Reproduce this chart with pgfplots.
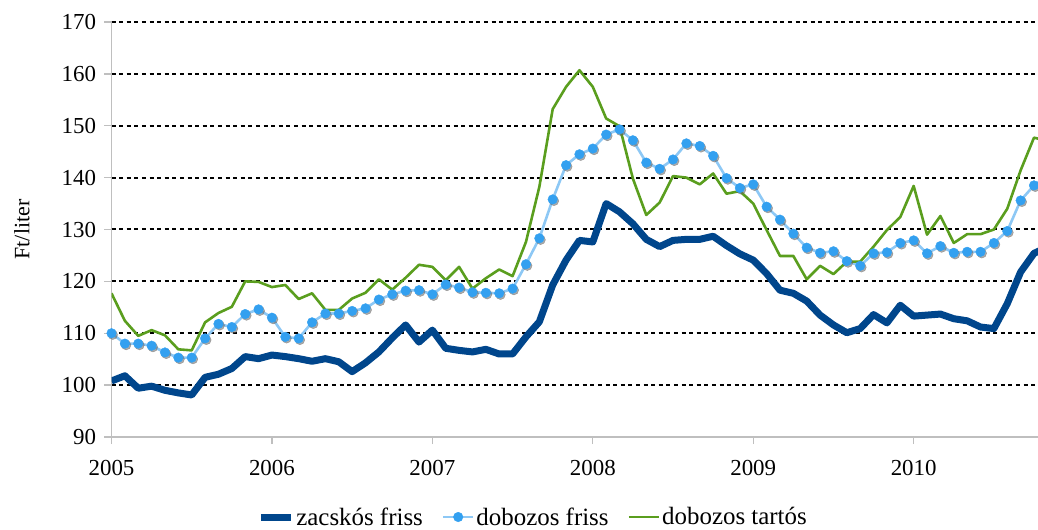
\documentclass[border=0pt]{standalone}
\usepackage{fontspec}
\setmainfont{Liberation Serif}
\usepackage{pgfplots}
\usepackage{pgfplotstable}
\pgfplotsset{compat=1.18}
\definecolor{zacs}{HTML}{00468C}
\definecolor{dobf}{HTML}{33A0F0}
\definecolor{dobfline}{HTML}{8DC8F5}
\definecolor{dobt}{HTML}{5A9E1E}
\definecolor{axgray}{HTML}{BFBFBF}

\pgfplotstableread{
m  zf     df     dt
0  100.8  110.0  117.7
1  101.8  108.0  112.4
2  99.4   108.0  109.5
3  99.8   107.6  110.6
4  99.0   106.3  109.6
5  98.5   105.3  106.9
6  98.1   105.3  106.7
7  101.5  109.0  112.1
8  102.1  111.8  113.9
9  103.2  111.2  115.1
10 105.5  113.7  120.0
11 105.1  114.6  119.9
12 105.8  113.0  118.9
13 105.5  109.3  119.3
14 105.1  109.0  116.6
15 104.6  112.1  117.7
16 105.1  113.8  114.5
17 104.5  113.8  114.5
18 102.6  114.3  116.7
19 104.3  114.8  117.8
20 106.4  116.5  120.4
21 109.1  117.5  118.4
22 111.6  118.2  120.7
23 108.3  118.3  123.2
24 110.6  117.5  122.8
25 107.1  119.4  120.2
26 106.7  118.8  122.8
27 106.4  117.9  118.6
28 106.9  117.8  120.6
29 106.0  117.7  122.3
30 106.0  118.6  121.0
31 109.3  123.3  127.6
32 112.2  128.3  138.2
33 119.3  135.8  153.2
34 124.1  142.4  157.5
35 127.9  144.5  160.7
36 127.6  145.6  157.5
37 135.0  148.3  151.4
38 133.4  149.3  149.9
39 131.1  147.2  139.8
40 128.1  142.9  132.8
41 126.7  141.7  135.2
42 127.9  143.5  140.3
43 128.1  146.6  140.0
44 128.1  146.1  138.7
45 128.7  144.2  140.8
46 126.9  139.9  136.9
47 125.3  138.0  137.4
48 124.1  138.7  135.0
49 121.5  134.4  129.9
50 118.3  131.9  124.9
51 117.7  129.2  124.9
52 116.2  126.5  120.4
53 113.5  125.5  123.0
54 111.6  125.8  121.4
55 110.1  123.9  123.8
56 110.9  123.0  123.8
57 113.6  125.4  126.7
58 112.0  125.6  129.9
59 115.4  127.4  132.4
60 113.3  127.9  138.4
61 113.5  125.4  129.0
62 113.7  126.8  132.6
63 112.8  125.5  127.4
64 112.4  125.7  129.1
65 111.2  125.7  129.1
66 110.9  127.4  130.0
67 115.7  129.7  134.0
68 121.8  135.6  141.4
69 125.4  138.5  147.7
70 126.6  140.3  147.1
}\milk

\begin{document}
\begin{tikzpicture}
\useasboundingbox (0,0) rectangle (1038bp,530bp);
\begin{axis}[
  at={(111.5bp,93bp)}, anchor=south west,
  scale only axis,
  width=926.5bp, height=415bp,
  xmin=0, xmax=69.3,
  ymin=90, ymax=170,
  axis x line*=bottom, axis y line*=left,
  axis line style={draw=axgray, line width=1.6bp},
  xtick={0,12,24,36,48,60},
  xticklabels={2005,2006,2007,2008,2009,2010},
  ytick={90,100,...,170},
  extra y ticks={100,110,...,170},
  extra y tick labels={},
  extra y tick style={grid=major, major tick length=0pt},
  grid style={draw=black, line width=2bp, dash pattern=on 4bp off 3.6bp},
  tick align=outside,
  major tick length=7bp,
  tick style={draw=axgray, line width=1.3bp},
  /pgf/number format/assume math mode=true,
  ticklabel style={font=\fontsize{23}{27}\selectfont, text=black},
  xticklabel style={yshift=-13bp},
  yticklabel style={xshift=-5bp},
  ylabel={Ft/liter},
  ylabel style={font=\fontsize{22}{26}\selectfont, at={(axis description cs:-0.0966,0.5)}, anchor=center},
  legend columns=3,
  legend style={draw=none, fill=none, at={(0.455,-0.1928)}, anchor=center,
    font=\fontsize{25}{30}\selectfont,
    /tikz/every even column/.append style={column sep=17bp},
    inner sep=0pt},
  legend image code/.code={%
    \draw[mark repeat=2,mark phase=2,#1] plot coordinates {(0bp,0bp) (15bp,0bp) (30bp,0bp)};},
  clip=true,
]
\addplot[draw=zacs, line width=7bp, line join=round] table[x=m, y=zf] {\milk};
\addlegendentry{zacskós friss}
\addplot[only marks, mark=*, mark size=4.8bp, 
  mark options={draw=black!60, fill=black!60, line width=0.4bp, opacity=0.55, xshift=1.3bp, yshift=-1.5bp}, forget plot] table[x=m, y=df] {\milk};
\addplot[draw=dobfline, line width=2.6bp, mark=*, mark size=4.8bp,
  mark options={solid, draw=dobf, line width=0.4bp, fill=dobf}] table[x=m, y=df] {\milk};
\addlegendentry{dobozos friss}
\addplot[draw=dobt, line width=2.6bp, line join=round] table[x=m, y=dt] {\milk};
\addlegendentry{dobozos tartós}
\end{axis}
\end{tikzpicture}
\end{document}
